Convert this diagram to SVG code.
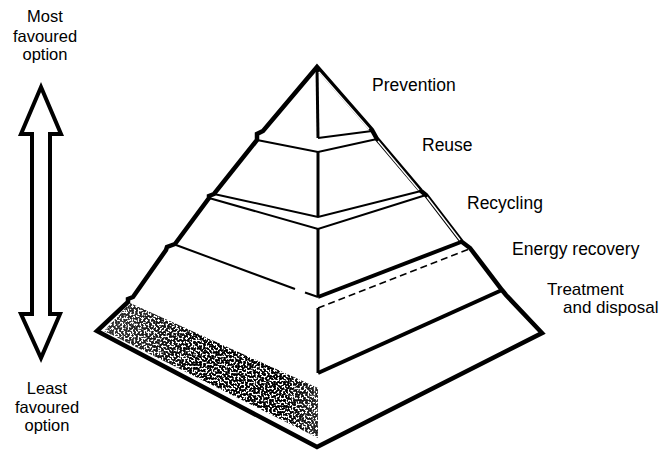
<svg xmlns="http://www.w3.org/2000/svg" width="664" height="451" viewBox="0 0 664 451">
<defs>
<style>
.lbl{font-family:"Liberation Sans",Arial,Helvetica,sans-serif;font-size:17.5px;fill:#000}
.lbl-sm{font-size:17px}
.lbl2{font-family:"Liberation Sans",Arial,Helvetica,sans-serif;font-size:16.5px;fill:#000;text-anchor:middle}
.face{fill:#fff;stroke:none}
.outer{fill:none;stroke:#000;stroke-width:4.5;stroke-linejoin:miter;stroke-miterlimit:8}
.inner{fill:none;stroke:#000;stroke-width:2}
.mid{fill:none;stroke:#000;stroke-width:3}
.heavy{fill:none;stroke:#000;stroke-width:4}
.dbl{fill:none;stroke:#fff;stroke-width:1.4}
.dash{fill:none;stroke:#000;stroke-width:1.6;stroke-dasharray:7 4}
</style>
<filter id="speckle" x="0" y="0" width="100%" height="100%">
<feTurbulence type="fractalNoise" baseFrequency="0.5" numOctaves="3" seed="7" result="n"/>
<feColorMatrix in="n" type="matrix" values="0 0 0 0 0  0 0 0 0 0  0 0 0 0 0  16 0 0 0 -7.2" result="dots"/>
<feComposite in="dots" in2="SourceGraphic" operator="in"/>
</filter>
<linearGradient id="shadeFade" x1="0" y1="0" x2="1" y2="0">
<stop offset="0" stop-color="#000" stop-opacity="0.8"/>
<stop offset="0.45" stop-color="#000" stop-opacity="1"/>
<stop offset="0.85" stop-color="#000" stop-opacity="1"/>
<stop offset="1" stop-color="#000" stop-opacity="0.85"/>
</linearGradient>
</defs>
<rect width="664" height="451" fill="#fff"/>

<g id="tier5">
<polygon class="face" points="128,302 318,382 506,295 542,333 317,447 97,331"/>
<polygon points="130,303 318,388 318,438 104,331" fill="url(#shadeFade)" filter="url(#speckle)"/>
</g>
<g id="tier4">
<polygon class="face" points="166,250 318,308 470,248 502,290 318,373 133,297"/>
<line class="dash" x1="318" y1="308" x2="469" y2="249"/>
<line class="mid" x1="318" y1="308" x2="318" y2="373"/>
<line class="heavy" x1="318" y1="373" x2="502" y2="290"/>
</g>
<g id="tier3">
<polygon class="face" points="209,198 318,229 426,195 462,242 318,297 175,244"/>
<polyline class="inner" points="209,198 318,229 426,195"/>
<line class="mid" x1="318" y1="229" x2="318" y2="297"/>
<line class="inner" x1="176" y1="245" x2="295" y2="289"/>
<line class="inner" x1="305" y1="292.5" x2="318" y2="297"/>
<line class="heavy" x1="318" y1="297" x2="461" y2="242"/>
</g>
<g id="tier2">
<polygon class="face" points="257,140 318,152 377,139 421,191 318,217 214,194"/>
<polyline class="inner" points="257,140 318,152 377,139"/>
<line class="mid" x1="318" y1="152" x2="318" y2="217"/>
<polyline class="inner" points="214,194 318,217 421,191"/>
</g>
<g id="tier1">
<polygon class="face" points="317,67 372,130 318,138 263,131"/>
<line class="mid" x1="317" y1="67" x2="318" y2="138"/>
<line class="inner" x1="318" y1="138" x2="372" y2="131"/>
</g>

<g id="outline">
<polygon class="outer" points="317,67 263,131 257,134 257,140 214,194 209,196 209,198 175,244 167,247 166,250 133,297 128,299 128,302 97,331 317,447 542,333 506,295 502,290 470,248 462,242 426,195 421,191 377,139 372,130"/>
<line class="dbl" x1="319" y1="72" x2="369" y2="129"/>
<line class="dbl" x1="378" y1="141" x2="419" y2="190"/>
<line class="dbl" x1="427" y1="197" x2="460" y2="240"/>
</g>

<g id="connectors">
<polygon points="41,87 61,134 50,134 50,314 60,314 41,358 21,314 32,314 32,134 21,134" fill="#fff" stroke="#000" stroke-width="4" stroke-linejoin="miter"/>
</g>

<g id="labels-left">
<text class="lbl2" x="45" y="22">Most</text>
<text class="lbl2" x="45" y="41.5">favoured</text>
<text class="lbl2" x="45" y="59.5">option</text>
<text class="lbl2" x="47" y="394">Least</text>
<text class="lbl2" x="47" y="413">favoured</text>
<text class="lbl2" x="47" y="431">option</text>
</g>
<g id="labels-right">
<text class="lbl" x="372" y="91">Prevention</text>
<text class="lbl" x="422" y="151">Reuse</text>
<text class="lbl" x="467" y="209">Recycling</text>
<text class="lbl" x="512" y="255">Energy recovery</text>
<text class="lbl lbl-sm" x="547" y="295">Treatment</text>
<text class="lbl lbl-sm" x="563" y="313">and disposal</text>
</g>
</svg>
